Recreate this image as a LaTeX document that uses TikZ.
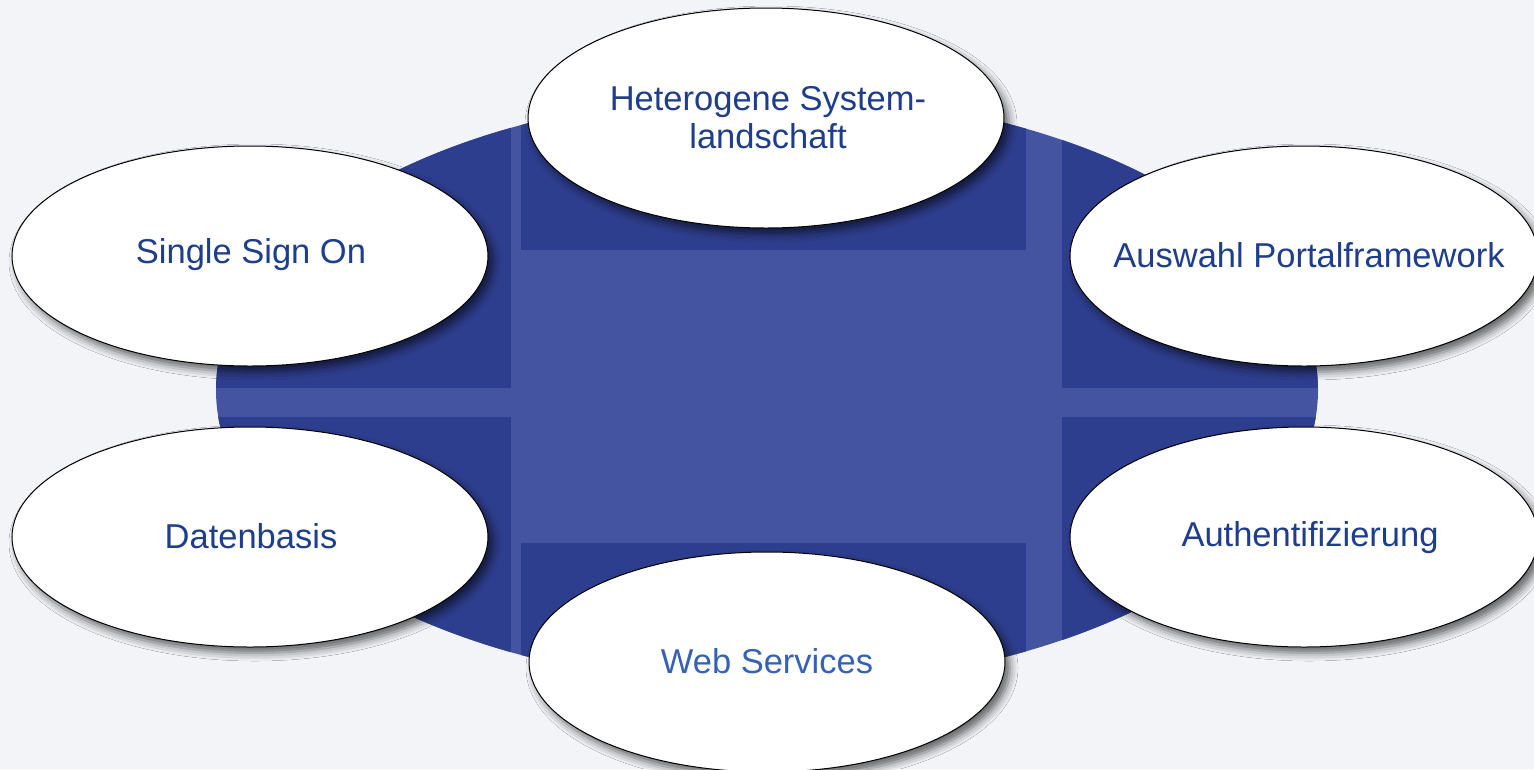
\documentclass[tikz,border=0pt]{standalone}
\usepackage{fontspec}
\setmainfont{Liberation Sans}
\usetikzlibrary{shapes.geometric,shadows.blur}
\definecolor{bg}{HTML}{F2F4F8}
\definecolor{dk}{HTML}{2E3E8E}
\definecolor{lt}{HTML}{4454A1}
\definecolor{txt}{HTML}{1E3D8C}
\definecolor{txtb}{HTML}{3562B2}
\begin{document}
\begin{tikzpicture}[x=1pt,y=-1pt,
  bubble/.style={ellipse, draw=black, line width=1pt, fill=white, inner sep=0pt,
    minimum width=476pt, minimum height=220pt,
    blur shadow={shadow xshift=5pt, shadow yshift=-6pt, shadow blur radius=8pt, shadow opacity=60}},
  lbl/.style={font=\fontsize{34.5}{38}\selectfont, text=txt, align=center, inner sep=0pt}]
\fill[bg] (0,0) rectangle (1534,769);
\useasboundingbox (0,0) rectangle (1534,769);
\clip (0,0) rectangle (1534,769);
% big background ellipse
\fill[lt] (767,390) ellipse [x radius=551, y radius=296];
\begin{scope}
  \clip (767,390) ellipse [x radius=551, y radius=296];
  \fill[dk] (200,80) rectangle (511,388);
  \fill[dk] (521,80) rectangle (1026,250);
  \fill[dk] (1062,80) rectangle (1330,388);
  \fill[dk] (200,417) rectangle (511,700);
  \fill[dk] (521,543) rectangle (1026,700);
  \fill[dk] (1062,417) rectangle (1330,700);
\end{scope}
% bubbles
\node[bubble] (het) at (766,118) {};
\node[bubble] (sso) at (250,256) {};
\node[bubble, minimum width=468pt] (apf) at (1304,256) {};
\node[bubble] (dat) at (250,537) {};
\node[bubble, minimum width=468pt] (aut) at (1304,537) {};
\node[bubble] (web) at (767,662) {};
% labels
\node[lbl] (hett) at (768,118) {Heterogene System-\\landschaft};
\node[lbl] (ssot) at (251,255) {Single Sign On};
\node[lbl] (apft) at (1309,255) {Auswahl Portalframework};
\node[lbl] (datt) at (251,536) {Datenbasis};
\node[lbl] (autt) at (1310,538) {Authentifizierung};
\node[lbl, text=txtb] (webt) at (767,661) {Web Services};
\end{tikzpicture}
\end{document}
